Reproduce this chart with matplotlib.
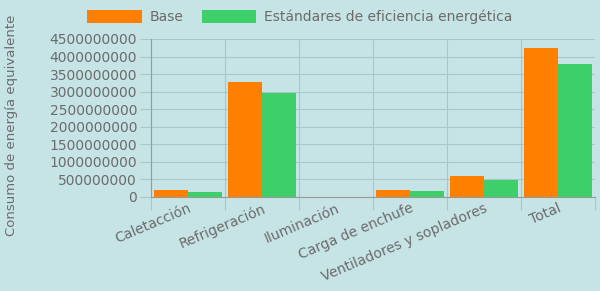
import matplotlib
matplotlib.use("Agg")
import matplotlib.pyplot as plt
import numpy as np
from matplotlib.patches import Patch

categories = ["Caletacción", "Refrigeración", "Iluminación", "Carga de enchufe",
              "Ventiladores y sopladores", "Total"]
base = [200000000, 3280000000, 5000000, 200000000, 600000000, 4240000000]
efficiency = [130000000, 2970000000, 4000000, 180000000, 475000000, 3780000000]
series_names = ["Base", "Estándares de eficiencia energética"]
yticks = [0, 500000000, 1000000000, 1500000000, 2000000000, 2500000000,
          3000000000, 3500000000, 4000000000, 4500000000]

bg = "#c6e4e6"
c_orange = "#ff7f00"
c_green = "#3ccf6a"
txt = "#6b6b6b"
grid = "#a9c6c8"

W, H = 600, 291
fig = plt.figure(figsize=(W / 100, H / 100), dpi=100, facecolor=bg)
ax = fig.add_axes([151 / W, 1 - 197 / H, (595 - 151) / W, (197 - 39) / H])
ax.set_facecolor(bg)

x = np.arange(len(categories))
bw = 0.465
ax.bar(x - bw / 2, base, width=bw, color=c_orange, zorder=3)
ax.bar(x + bw / 2, efficiency, width=bw, color=c_green, zorder=3)

ax.set_xlim(-0.5, len(categories) - 0.5)
ax.set_ylim(0, 4500000000)
ax.set_yticks(yticks)
ax.set_yticklabels([str(v) for v in yticks], fontsize=10, color=txt)
ax.yaxis.grid(True, color=grid, linewidth=0.8, zorder=0)

ax.set_xticks(x)
ax.set_xticklabels(categories, rotation=23, ha="right", rotation_mode="anchor",
                   fontsize=10, color=txt)
ax.tick_params(axis="x", which="major", length=0, pad=3)
ax.set_xticks(np.arange(len(categories) + 1) - 0.5, minor=True)
ax.tick_params(axis="x", which="minor", length=9, color=grid, width=0.8)
ax.xaxis.grid(True, which="minor", color=grid, linewidth=0.8, zorder=0)
ax.tick_params(axis="y", length=8, color=grid, width=0.8, pad=2)

for s in ["top", "right"]:
    ax.spines[s].set_visible(False)
ax.spines["left"].set_color("#999999")
ax.spines["bottom"].set_color("#999999")

handles = [Patch(facecolor=c_orange, label=series_names[0]),
           Patch(facecolor=c_green, label=series_names[1])]
fig.legend(handles=handles, loc="center", bbox_to_anchor=(300 / W, 1 - 17 / H),
           ncol=2, frameon=False, fontsize=10, handlelength=3.9, handleheight=1.05,
           handletextpad=0.6, columnspacing=1.3, labelcolor=txt)

fig.text(12 / W, 1 - 236 / H, "Consumo de energía equivalente", rotation=90,
         ha="center", va="bottom", fontsize=9.5, color=txt)

fig.savefig("out.png", dpi=100, facecolor=bg)
